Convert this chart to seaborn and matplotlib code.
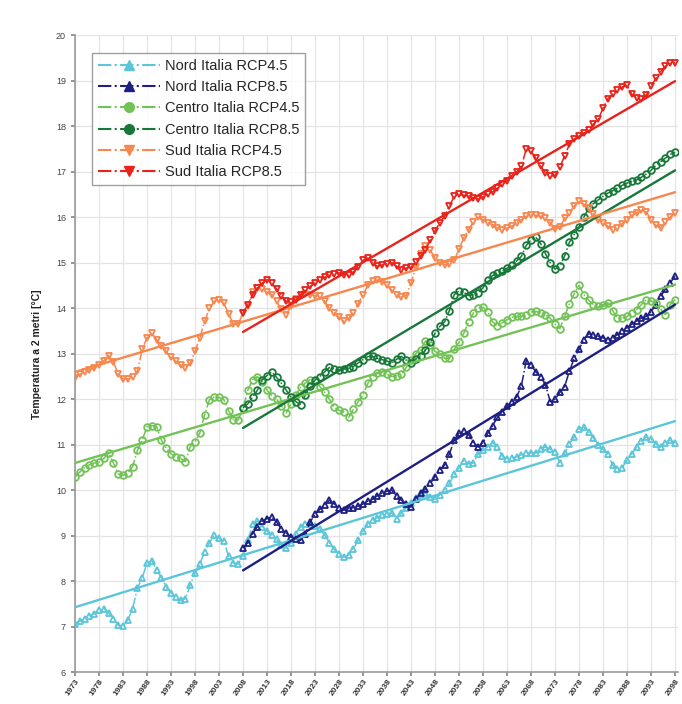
import numpy as np
import pandas as pd
import matplotlib
matplotlib.use("Agg")
import matplotlib.pyplot as plt
from matplotlib.lines import Line2D
import seaborn as sns

# years of the 5-year running means
years_45 = np.arange(1973, 2099)
years_85 = np.arange(2008, 2099)

nord_45 = [
    7.07, 7.12, 7.18, 7.24, 7.29, 7.36, 7.40, 7.30, 7.18, 7.03,
    7.02, 7.15, 7.40, 7.85, 8.08, 8.40, 8.45, 8.25, 8.08, 7.88,
    7.75, 7.65, 7.58, 7.62, 7.92, 8.18, 8.38, 8.65, 8.85, 9.01,
    8.95, 8.88, 8.55, 8.40, 8.38, 8.55, 8.90, 9.25, 9.32, 9.20,
    9.10, 9.02, 8.92, 8.80, 8.73, 8.85, 9.05, 9.20, 9.27, 9.27,
    9.22, 9.15, 9.02, 8.85, 8.70, 8.60, 8.53, 8.58, 8.72, 8.90,
    9.10, 9.25, 9.34, 9.40, 9.45, 9.48, 9.50, 9.38, 9.50, 9.62,
    9.72, 9.82, 9.90, 9.94, 9.85, 9.80, 9.90, 10.00, 10.15, 10.35,
    10.50, 10.65, 10.58, 10.60, 10.80, 10.88, 10.95, 11.05, 10.95, 10.75,
    10.68, 10.70, 10.74, 10.78, 10.82, 10.82, 10.82, 10.90, 10.95, 10.90,
    10.85, 10.60, 10.82, 11.02, 11.17, 11.35, 11.38, 11.28, 11.15, 11.00,
    10.90, 10.80, 10.55, 10.46, 10.50, 10.66, 10.80, 10.95, 11.08, 11.17,
    11.12, 11.02, 10.95, 11.05, 11.10, 11.04,
]
nord_85 = [
    8.73, 8.85, 9.05, 9.20, 9.32, 9.38, 9.41, 9.30, 9.15, 9.06,
    8.97, 8.92, 8.90, 9.05, 9.30, 9.48, 9.58, 9.68, 9.78, 9.70,
    9.62, 9.56, 9.60, 9.62, 9.65, 9.70, 9.76, 9.80, 9.88, 9.94,
    9.98, 10.00, 9.88, 9.78, 9.70, 9.63, 9.80, 9.94, 10.03, 10.15,
    10.30, 10.45, 10.55, 10.80, 11.10, 11.26, 11.30, 11.22, 11.05, 10.95,
    11.05, 11.25, 11.42, 11.60, 11.72, 11.85, 11.95, 12.05, 12.30, 12.85,
    12.75, 12.60, 12.50, 12.32, 11.95, 12.00, 12.15, 12.28, 12.62, 12.90,
    13.10, 13.31, 13.44, 13.42, 13.38, 13.35, 13.31, 13.35, 13.42, 13.50,
    13.57, 13.65, 13.72, 13.78, 13.82, 13.92, 14.08, 14.26, 14.42, 14.56,
    14.70,
]
centro_45 = [
    10.29, 10.40, 10.50, 10.56, 10.60, 10.62, 10.70, 10.82, 10.60, 10.36,
    10.33, 10.38, 10.52, 10.88, 11.10, 11.40, 11.42, 11.40, 11.10, 10.93,
    10.80, 10.74, 10.70, 10.63, 10.96, 11.06, 11.26, 11.66, 11.99, 12.05,
    12.04, 11.99, 11.75, 11.55, 11.55, 11.80, 12.20, 12.43, 12.50, 12.38,
    12.20, 12.08, 12.00, 11.85, 11.70, 11.90, 12.10, 12.26, 12.36, 12.43,
    12.40, 12.28, 12.15, 12.00, 11.82, 11.76, 11.72, 11.60, 11.78, 11.95,
    12.10, 12.35, 12.50, 12.58, 12.60, 12.55, 12.50, 12.52, 12.55, 12.70,
    12.87, 13.00, 13.09, 13.28, 13.20, 13.05, 13.00, 12.90, 12.90, 13.10,
    13.25, 13.45, 13.70, 13.90, 14.00, 14.02, 13.92, 13.70, 13.62, 13.68,
    13.75, 13.80, 13.82, 13.82, 13.86, 13.92, 13.93, 13.90, 13.86, 13.78,
    13.65, 13.55, 13.82, 14.10, 14.32, 14.50, 14.30, 14.18, 14.08, 14.04,
    14.08, 14.12, 13.95, 13.78, 13.78, 13.82, 13.90, 13.97, 14.08, 14.19,
    14.16, 14.12, 13.98, 13.86, 14.08, 14.19,
]
centro_85 = [
    11.81, 11.90, 12.05, 12.20, 12.43, 12.52, 12.60, 12.48, 12.35, 12.20,
    12.05, 11.95, 11.88, 12.10, 12.30, 12.42, 12.50, 12.60, 12.70, 12.67,
    12.65, 12.66, 12.68, 12.72, 12.80, 12.87, 12.94, 12.94, 12.90, 12.87,
    12.84, 12.80, 12.88, 12.94, 12.86, 12.80, 12.88, 12.94, 13.08, 13.25,
    13.45, 13.60, 13.70, 13.95, 14.30, 14.38, 14.35, 14.28, 14.30, 14.34,
    14.45, 14.62, 14.72, 14.77, 14.82, 14.88, 14.95, 15.04, 15.14, 15.38,
    15.50, 15.56, 15.42, 15.20, 15.00, 14.86, 14.92, 15.15, 15.45, 15.62,
    15.78, 16.00, 16.20, 16.30, 16.38, 16.46, 16.53, 16.58, 16.64, 16.70,
    16.75, 16.79, 16.82, 16.88, 16.95, 17.03, 17.14, 17.22, 17.30, 17.38,
    17.43,
]
sud_45 = [
    12.47, 12.55, 12.61, 12.65, 12.69, 12.75, 12.85, 12.96, 12.82, 12.55,
    12.45, 12.45, 12.50, 12.62, 13.10, 13.35, 13.46, 13.31, 13.18, 13.05,
    12.92, 12.83, 12.75, 12.69, 12.80, 13.05, 13.35, 13.71, 14.01, 14.15,
    14.19, 14.11, 13.88, 13.65, 13.65, 13.90, 14.05, 14.35, 14.45, 14.42,
    14.35, 14.30, 14.15, 13.98, 13.86, 14.04, 14.20, 14.30, 14.32, 14.30,
    14.28, 14.26, 14.15, 14.00, 13.90, 13.80, 13.72, 13.78, 13.90, 14.10,
    14.30, 14.50, 14.60, 14.62, 14.58, 14.50, 14.40, 14.30, 14.25, 14.28,
    14.55, 14.90, 15.20, 15.36, 15.28, 15.10, 15.00, 14.96, 14.98, 15.05,
    15.30, 15.55, 15.73, 15.90, 16.00, 15.95, 15.88, 15.84, 15.76, 15.73,
    15.76, 15.80, 15.88, 15.95, 16.02, 16.06, 16.04, 16.02, 15.98, 15.88,
    15.75, 15.78, 15.98, 16.10, 16.25, 16.35, 16.28, 16.20, 16.08, 15.95,
    15.88, 15.80, 15.73, 15.76, 15.86, 15.95, 16.04, 16.10, 16.15, 16.12,
    15.95, 15.82, 15.77, 15.90, 16.00, 16.10,
]
sud_85 = [
    13.90, 14.08, 14.30, 14.45, 14.55, 14.63, 14.55, 14.42, 14.28, 14.15,
    14.14, 14.18, 14.30, 14.40, 14.48, 14.55, 14.62, 14.68, 14.72, 14.76,
    14.78, 14.74, 14.72, 14.80, 14.90, 15.05, 15.10, 15.00, 14.92, 14.95,
    14.98, 15.00, 14.92, 14.85, 14.88, 14.90, 15.02, 15.14, 15.28, 15.50,
    15.70, 15.88, 16.02, 16.25, 16.46, 16.50, 16.48, 16.46, 16.43, 16.40,
    16.45, 16.50, 16.56, 16.64, 16.72, 16.80, 16.90, 17.00, 17.12, 17.50,
    17.45, 17.30, 17.12, 16.98, 16.90, 16.92, 17.10, 17.35, 17.60, 17.72,
    17.78, 17.85, 17.92, 18.05, 18.15, 18.40, 18.60, 18.70, 18.80, 18.86,
    18.90, 18.70, 18.62, 18.60, 18.68, 18.88, 19.05, 19.20, 19.32, 19.38,
    19.40,
]

# linear trend end points (start year value, 2098 value)
trend_45 = {"Nord": (7.43, 11.52), "Centro": (10.60, 14.52), "Sud": (12.60, 16.55)}
trend_85 = {"Nord": (8.24, 14.08), "Centro": (11.37, 17.03), "Sud": (13.48, 18.99)}

series = [
    ("Nord Italia RCP4.5", years_45, nord_45, "#5cc6d9", "^", trend_45["Nord"]),
    ("Nord Italia RCP8.5", years_85, nord_85, "#1e1f82", "^", trend_85["Nord"]),
    ("Centro Italia RCP4.5", years_45, centro_45, "#72c257", "o", trend_45["Centro"]),
    ("Centro Italia RCP8.5", years_85, centro_85, "#18783a", "o", trend_85["Centro"]),
    ("Sud Italia RCP4.5", years_45, sud_45, "#f6874f", "v", trend_45["Sud"]),
    ("Sud Italia RCP8.5", years_85, sud_85, "#e8231b", "v", trend_85["Sud"]),
]

sns.set_theme(style="whitegrid")
plt.rcParams["font.family"] = ["Liberation Sans", "DejaVu Sans"]

fig, ax = plt.subplots(figsize=(6.82, 7.04), dpi=100)
fig.subplots_adjust(left=0.11, right=0.994, bottom=0.045, top=0.95)

handles = []
for name, yrs, vals, color, marker, (t0, t1) in series:
    df = pd.DataFrame({"year": yrs, "temp": vals})
    sns.lineplot(data=df, x="year", y="temp", ax=ax, color=color,
                 linestyle="-.", linewidth=1.1, marker=marker, markersize=4.8,
                 markerfacecolor="none", markeredgecolor=color,
                 markeredgewidth=1.3, zorder=3)
    tr = pd.DataFrame({"year": [yrs[0], yrs[-1]], "temp": [t0, t1]})
    sns.lineplot(data=tr, x="year", y="temp", ax=ax, color=color,
                 linewidth=1.7, zorder=4)
    handles.append(Line2D([], [], color=color, linestyle="-.", linewidth=1.5,
                          marker=marker, markersize=7, label=name))

ax.set_xlim(1973, 2098.6)
ax.set_ylim(6, 20)
ax.set_xticks(np.arange(1973, 2099, 5))
ax.set_xticklabels([str(y) for y in range(1973, 2099, 5)], rotation=55,
                   ha="right", rotation_mode="anchor", fontsize=6,
                   fontweight="bold", color="#333333")
ax.set_yticks(np.arange(6, 21, 1))
ax.tick_params(axis="y", labelsize=6.5, labelcolor="#444444", length=3,
               color="#888888", left=True)
ax.tick_params(axis="x", length=3, color="#888888", bottom=True, pad=1)
ax.set_xlabel("")
ax.set_ylabel("Temperatura a 2 metri [°C]", fontsize=7.5, fontweight="bold",
              color="#222222", labelpad=10)
ax.grid(True, color="#e4e4e4", linewidth=0.9)
for side in ["top", "right"]:
    ax.spines[side].set_visible(False)
for side in ["left", "bottom"]:
    ax.spines[side].set_color("#999999")
    ax.spines[side].set_linewidth(1.2)

leg = ax.legend(handles=handles, loc="upper left", bbox_to_anchor=(0.028, 0.972),
                fontsize=10.5, handlelength=4.3, labelspacing=0.5,
                borderaxespad=0, frameon=True, fancybox=False,
                handletextpad=0.3, borderpad=0.4)
leg.get_frame().set_edgecolor("#888888")
leg.get_frame().set_linewidth(1.0)

fig.savefig("out.png", dpi=100)
plt.close(fig)
